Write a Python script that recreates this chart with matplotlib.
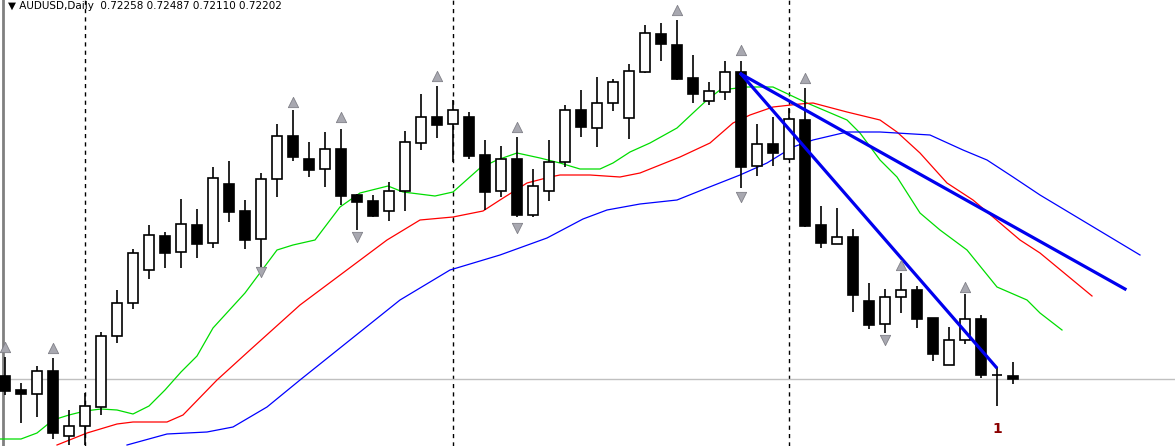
import matplotlib
matplotlib.use('Agg')
import matplotlib.pyplot as plt
import numpy as np

# price scale: bid line at 0.72202, ~0.00008 per pixel row
bid = 0.72202
step = 0.00008

def px(v):
    return bid + (379 - np.asarray(v, dtype=float)) * step

# candles: bar index (16 px apart), open, high, low, close (read as pixel rows)
bars = np.arange(64)
o = [376, 390, 394, 371, 436, 426, 407, 336, 303, 270, 236, 252, 225, 243, 184, 211, 239,
     179, 136, 159, 169, 149, 195, 201, 211, 191, 143, 117, 124, 117, 155, 191, 159, 215,
     191, 162, 110, 128, 103, 118, 72, 34, 45, 78, 101, 92, 72, 166, 144, 159, 120, 225,
     244, 237, 301, 324, 297, 290, 318, 365, 340, 319, 375, 376]
h = [357, 383, 366, 358, 410, 393, 332, 290, 249, 225, 232, 199, 209, 167, 161, 200, 173,
     124, 110, 142, 132, 129, 194, 195, 182, 131, 94, 86, 100, 112, 140, 146, 137, 169,
     140, 105, 90, 77, 79, 64, 25, 23, 20, 55, 82, 61, 61, 124, 117, 108, 88, 206,
     208, 229, 283, 289, 273, 286, 318, 327, 294, 315, 367, 362]
l = [395, 423, 417, 439, 445, 445, 415, 343, 309, 279, 268, 268, 258, 248, 222, 249, 267,
     197, 161, 177, 187, 205, 230, 217, 221, 211, 150, 138, 162, 159, 210, 197, 217, 217,
     201, 167, 137, 147, 111, 139, 73, 61, 80, 103, 105, 100, 188, 176, 166, 160, 227, 248,
     244, 312, 329, 333, 313, 328, 361, 365, 344, 378, 406, 384]
c = [391, 394, 371, 433, 426, 406, 336, 303, 253, 235, 253, 224, 244, 178, 212, 240, 179,
     136, 157, 170, 149, 196, 202, 216, 191, 142, 117, 125, 110, 156, 192, 159, 215, 186,
     162, 110, 127, 103, 82, 71, 33, 44, 79, 94, 91, 72, 167, 144, 153, 119, 226, 243,
     237, 295, 325, 297, 290, 319, 354, 340, 319, 375, 375, 379]

# moving averages (x pixel, pixel row)
green_x = [0, 21, 37, 53, 69, 85, 101, 117, 133, 149, 165, 181, 197, 213, 245, 277, 293, 315,
           340, 360, 388, 403, 435, 453, 480, 497, 517, 540, 560, 580, 600, 613, 630, 650, 677,
           693, 707, 720, 747, 773, 790, 807, 847, 860, 880, 897, 920, 940, 967, 997, 1027,
           1040, 1062]
green_y = [439, 439, 433, 420, 415, 411, 409, 410, 414, 406, 390, 372, 356, 328, 293, 250, 245,
           240, 207, 193, 186, 192, 196, 192, 168, 160, 153, 158, 163, 169, 169, 163, 152, 143,
           128, 113, 100, 90, 87, 87, 95, 103, 120, 133, 160, 177, 213, 230, 250, 287, 300,
           313, 330]
red_x = [57, 87, 117, 133, 167, 183, 217, 250, 300, 387, 420, 453, 483, 500, 527, 550, 560,
         590, 620, 640, 680, 710, 733, 750, 773, 800, 813, 847, 880, 897, 920, 947, 973, 993,
         1020, 1040, 1092]
red_y = [445, 433, 424, 422, 422, 415, 380, 350, 305, 240, 220, 217, 211, 200, 183, 177, 175,
         175, 177, 173, 157, 143, 123, 115, 107, 104, 103, 112, 120, 132, 153, 183, 200, 217,
         240, 253, 296]
blue_x = [127, 167, 207, 233, 267, 300, 350, 400, 450, 500, 547, 583, 607, 640, 677, 707, 740,
          767, 793, 813, 847, 880, 930, 963, 987, 1013, 1040, 1140]
blue_y = [445, 434, 432, 427, 407, 380, 340, 300, 270, 255, 238, 219, 210, 204, 200, 188, 175,
          163, 147, 140, 132, 132, 135, 150, 160, 177, 195, 255]

# trend lines
trend1_x, trend1_y = [741, 1125], [74, 289]
trend2_x, trend2_y = [741, 996], [74, 367]

# fractal arrows (bar index, pixel row)
up_bars = [0, 3, 18, 21, 27, 32, 42, 46, 50, 56, 60]
up_y = [347, 348, 102, 117, 76, 127, 10, 50, 78, 265, 287]
dn_bars = [16, 22, 32, 46, 55]
dn_y = [272, 237, 228, 197, 340]

vlines_x = [85, 453, 789]

fig = plt.figure(figsize=(11.75, 4.46), dpi=100)
ax = fig.add_axes([0, 0, 1, 1])
ax.set_xlim(0, 1175)
ax.set_ylim(px(446), px(0))
ax.axis('off')

xs = 5 + bars * 16
for x, vo, vh, vl, vc in zip(xs, px(o), px(h), px(l), px(c)):
    ax.vlines(x, vl, vh, color='black', lw=1.2, zorder=3)
    fill = 'white' if vc >= vo else 'black'
    bot, top = min(vo, vc), max(vo, vc)
    if top - bot < step:
        ax.hlines(vo, x - 5, x + 5, color='black', lw=1.2, zorder=4)
    else:
        ax.add_patch(plt.Rectangle((x - 5, bot), 10, top - bot, facecolor=fill,
                                   edgecolor='black', lw=1.2, zorder=4))

ax.plot(green_x, px(green_y), color='#00dd00', lw=0.9, zorder=2)
ax.plot(red_x, px(red_y), color='red', lw=0.9, zorder=2)
ax.plot(blue_x, px(blue_y), color='blue', lw=0.9, zorder=2)
ax.plot(trend1_x, px(trend1_y), color='#0000ee', lw=2.3, zorder=5)
ax.plot(trend2_x, px(trend2_y), color='#0000ee', lw=2.3, zorder=5)

ax.scatter(5 + np.array(up_bars) * 16, px(up_y), marker='^', s=55, color='#a8a8b0',
           edgecolor='#808088', lw=0.6, zorder=6)
ax.scatter(5 + np.array(dn_bars) * 16, px(dn_y), marker='v', s=55, color='#a8a8b0',
           edgecolor='#808088', lw=0.6, zorder=6)

for x in vlines_x:
    ax.axvline(x, color='black', ls=(0, (3, 3)), lw=1, zorder=1)
ax.axhline(bid, color='#c0c0c0', lw=1, zorder=1)
ax.axvline(3, color='#808080', lw=2, zorder=1)

ax.text(8, px(6), '\u25bc AUDUSD,Daily  0.72258 0.72487 0.72110 0.72202', fontsize=7.5,
        va='center', ha='left', color='black')
ax.text(997, px(429), '1', fontsize=10, fontweight='bold', color='#8b0000', ha='center', va='center')

fig.savefig('out.png', dpi=100)
